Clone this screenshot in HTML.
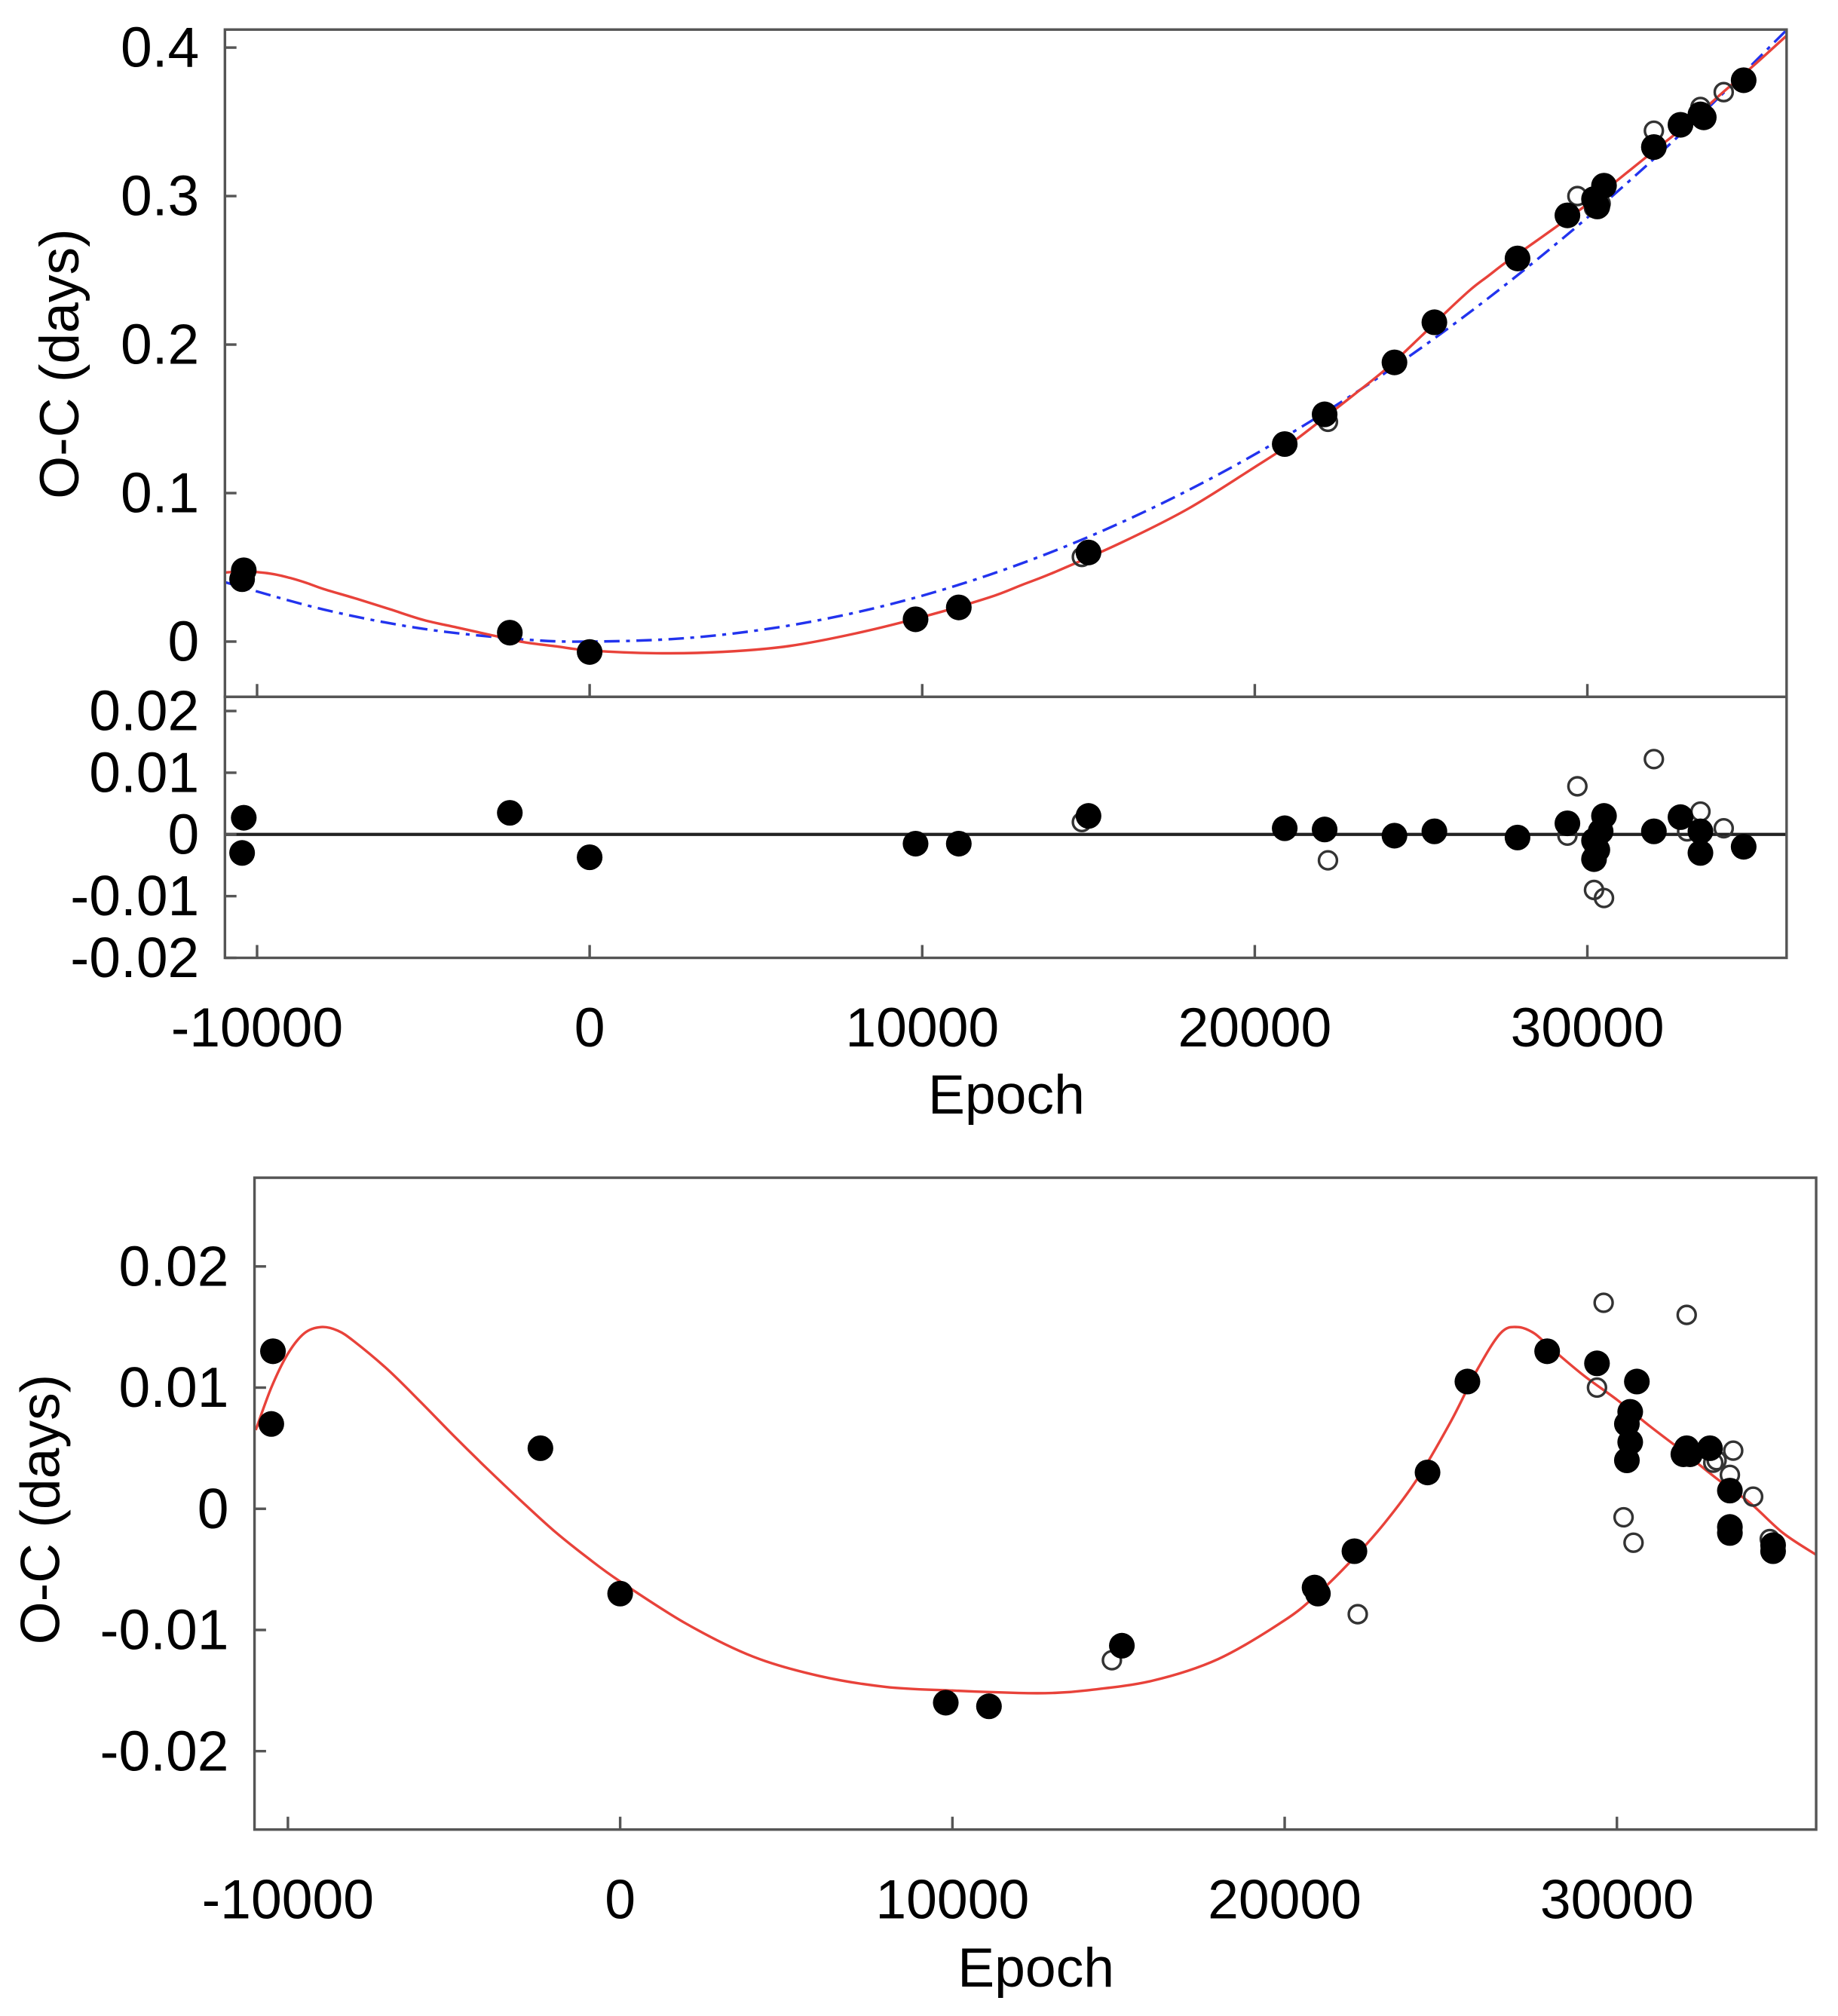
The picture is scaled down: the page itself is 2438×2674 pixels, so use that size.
<!DOCTYPE html>
<html><head><meta charset="utf-8"><style>
html,body{margin:0;padding:0;background:#fff;}
svg{display:block;}
text{font-family:"Liberation Sans",sans-serif;fill:#000;}
</style></head><body>
<svg id="fig" width="2438" height="2674" viewBox="0 0 1430 1568" preserveAspectRatio="none" xmlns="http://www.w3.org/2000/svg"></svg>
<script>
// ---- top panel data (O-C) ----
const topFilledE = [-10400,-10450,-2400,0,9800,11100,15000,20900,22100,24200,25400,27900,29400,30200,30300,30500,32000,32800,33400,33500,34700];
const topFilledV = [0.048,0.042,0.006,-0.007,0.015,0.023,0.060,0.133,0.153,0.188,0.215,0.258,0.287,0.298,0.293,0.307,0.333,0.348,0.355,0.353,0.378];
const topOpenE = [14800,22200,29700,30200,32000,33400,34100,30400];
const topOpenV = [0.057,0.148,0.300,0.292,0.344,0.360,0.370,0.295];
const quadE = [-10967,-8000,-5000,-2000,0,3000,6000,9000,12000,15000,18000,21000,24000,27000,30000,33000,36000];
const quadV = [0.040,0.0216,0.0086,0.0015,0,0.0025,0.0108,0.0249,0.0448,0.0705,0.1019,0.1391,0.1821,0.2309,0.2855,0.3458,0.412];
// ---- residual panel ----
const resFilledE = [-10400,-10450,-2400,0,9800,11100,15000,20900,22100,24200,25400,27900,29400,30200,30200,30300,30500,32000,32800,33400,33400,34700,30400];
const resFilledV = [0.0027,-0.003,0.0035,-0.0037,-0.0015,-0.0015,0.003,0.001,0.0008,-0.0002,0.0005,-0.0005,0.0018,-0.001,-0.004,-0.0025,0.003,0.0005,0.0028,-0.003,0.0005,-0.002,0.0005];
const resOpenE = [14800,22200,29700,29400,30200,30500,32000,33400,34100,33000];
const resOpenV = [0.002,-0.0042,0.0078,-0.0002,-0.009,-0.0103,0.0122,0.0037,0.001,0.0005];
// ---- bottom panel (LTTE residuals) ----
const botFilledE = [-10450,-10500,-2400,0,9800,11100,15100,20900,21000,22100,24300,25500,27900,29400,30300,30400,30400,30300,30600,32100,32200,32000,32800,33400,33400,33400,34700,34700];
const botFilledV = [0.013,0.007,0.005,-0.007,-0.016,-0.0163,-0.0113,-0.0065,-0.007,-0.0035,0.003,0.0105,0.013,0.012,0.007,0.008,0.0055,0.004,0.0105,0.005,0.0045,0.0045,0.005,0.0015,-0.0015,-0.002,-0.003,-0.0035];
const botOpenE = [14800,22200,29600,29400,30200,30500,32100,33500,33400,34100,33000,34600,32900];
const botOpenV = [-0.0125,-0.0087,0.017,0.010,-0.0007,-0.0028,0.016,0.0048,0.0028,0.001,0.004,-0.0025,0.0038];
const lteE = [-10967,-10500,-10000,-9500,-9000,-8500,-8000,-7000,-6000,-5000,-4000,-3000,-2000,-1000,0,2000,4000,6000,8000,10000,12000,13000,14000,16000,18000,20000,21000,22000,23000,24000,25000,25800,26500,27000,27500,28000,29000,30000,31000,32000,33000,34000,35000,36000];
const lteV = [0.0065,0.010,0.0128,0.0145,0.0150,0.0147,0.0138,0.0115,0.0088,0.0060,0.0033,0.0007,-0.0018,-0.0040,-0.0060,-0.0095,-0.0122,-0.0138,-0.0147,-0.0150,-0.0152,-0.0152,-0.0150,-0.0142,-0.0124,-0.0092,-0.0070,-0.0043,-0.0012,0.0025,0.0072,0.0115,0.0145,0.0150,0.0145,0.0133,0.0110,0.0090,0.0068,0.0047,0.0025,0.0005,-0.0020,-0.0038];
const xTicks = [-10000,0,10000,20000,30000];
const xTickLabels = ["-10000","0","10000","20000","30000"];
const topYTicks = [0,0.1,0.2,0.3,0.4];
const topYLabels = ["0","0.1","0.2","0.3","0.4"];
const resYTicks = [-0.02,-0.01,0,0.01,0.02];
const resYLabels = ["-0.02","-0.01","0","0.01","0.02"];
const botYTicks = [-0.02,-0.01,0,0.01,0.02];
const botYLabels = ["-0.02","-0.01","0","0.01","0.02"];

const NS="http://www.w3.org/2000/svg";
const svg=document.getElementById('fig');
function el(tag,attrs,parent){const e=document.createElementNS(NS,tag);for(const k in attrs)e.setAttribute(k,attrs[k]);(parent||svg).appendChild(e);return e;}
function lin(d0,d1,r0,r1){return v=>r0+(v-d0)/(d1-d0)*(r1-r0);}
function interp(xs,ys,x){for(let i=0;i<xs.length-1;i++){if(x<=xs[i+1]){const t=(x-xs[i])/(xs[i+1]-xs[i]);return ys[i]+t*(ys[i+1]-ys[i]);}}return ys[ys.length-1];}

const xTop=lin(-10000,30000,200,1235);
const yTop=lin(0,0.4,499,37);
const yRes=lin(-0.02,0.02,745,553);
const xBot=lin(-10000,30000,224,1258);
const yBot=lin(-0.02,0.02,1362,985);
const TICKF=44, XF=43, TF=43;

function frame(g,x0,y0,x1,y1,name){
  const r=el('rect',{x:x0,y:y0,width:x1-x0,height:y1-y0,fill:'none',stroke:'#555','stroke-width':2},g);
  
  
}
function yAxis(g,ticks,labels,ys,x0){
  ticks.forEach((t,i)=>{
    el('line',{x1:x0,x2:x0+9,y1:ys(t),y2:ys(t),stroke:'#555','stroke-width':2},g);
    const tx=el('text',{x:x0-20,y:ys(t)+15,'font-size':TICKF,'text-anchor':'end'},g);
    tx.textContent=labels[i];
    
    
  });
}
function xTicksDraw(g,xs,yb,labels,ly){
  xTicks.forEach((t,i)=>{
    el('line',{x1:xs(t),x2:xs(t),y1:yb,y2:yb-10,stroke:'#555','stroke-width':2},g);
    if(labels){
      const tx=el('text',{x:xs(t),y:ly,'font-size':XF,'text-anchor':'middle'},g);
      tx.textContent=xTickLabels[i];
      
      
    }
  });
}
function pts(g,E,V,xs,ys,filled,name){
  E.forEach((e,i)=>{
    const c=filled?el('circle',{cx:xs(e),cy:ys(V[i]),r:10,fill:'#000'},g):el('circle',{cx:xs(e),cy:ys(V[i]),r:7,fill:'none',stroke:'#333','stroke-width':2},g);
    
    
  });
}
function curve(g,E,V,xs,ys,attrs,name){
  const P=E.map((e,i)=>[xs(e),ys(V[i])]);
  let d='M'+P[0][0].toFixed(2)+','+P[0][1].toFixed(2);
  for(let i=0;i<P.length-1;i++){
    const p0=P[Math.max(0,i-1)],p1=P[i],p2=P[i+1],p3=P[Math.min(P.length-1,i+2)];
    const c1=[p1[0]+(p2[0]-p0[0])/6,p1[1]+(p2[1]-p0[1])/6];
    const c2=[p2[0]-(p3[0]-p1[0])/6,p2[1]-(p3[1]-p1[1])/6];
    d+=' C'+c1[0].toFixed(2)+','+c1[1].toFixed(2)+' '+c2[0].toFixed(2)+','+c2[1].toFixed(2)+' '+p2[0].toFixed(2)+','+p2[1].toFixed(2);
  }
  const p=el('path',Object.assign({d:d,fill:'none'},attrs),g);
  
  
}

// ===== top panel =====
const gT=el('g',{});


const cpT=el('clipPath',{id:'cT'},gT);
el('rect',{x:175,y:23,width:1215,height:519},cpT);
const gTc=el('g',{'clip-path':'url(#cT)'},gT);
const redTopV=lteE.map((e,i)=>interp(quadE,quadV,e)+lteV[i]);
curve(gTc,quadE,quadV,xTop,yTop,{stroke:'#2233ee','stroke-width':2,'stroke-dasharray':'12,5,3,5'},'quadratic-fit-line');
curve(gTc,lteE,redTopV,xTop,yTop,{stroke:'#e8423a','stroke-width':2},'lte-fit-line');
pts(gTc,topOpenE,topOpenV,xTop,yTop,false,'open-point');
pts(gTc,topFilledE,topFilledV,xTop,yTop,true,'filled-point');
frame(gT,175,23,1390,542,'oc-plot-frame');
yAxis(gT,topYTicks,topYLabels,yTop,175);
xTicksDraw(gT,xTop,542,false);
const yl1=el('text',{x:0,y:0,'font-size':TF,'text-anchor':'middle',transform:'translate(61,283) rotate(-90)'},gT);
yl1.textContent='O-C (days)';



// residual
const gR=el('g',{});


el('line',{x1:175,x2:1390,y1:yRes(0),y2:yRes(0),stroke:'#222','stroke-width':2.5},gR);
pts(gR,resOpenE,resOpenV,xTop,yRes,false,'residual-open-point');
pts(gR,resFilledE,resFilledV,xTop,yRes,true,'residual-filled-point');
frame(gR,175,542,1390,745,'residual-plot-frame');
yAxis(gR,resYTicks,resYLabels,yRes,175);
xTicksDraw(gR,xTop,745,true,814);
const xl1=el('text',{x:783,y:866,'font-size':TF,'text-anchor':'middle'},gR);
xl1.textContent='Epoch';



// ===== bottom panel =====
const gB=el('g',{});


const cp=el('clipPath',{id:'cB'},gB);
el('rect',{x:198,y:916,width:1215,height:507},cp);
const gBc=el('g',{'clip-path':'url(#cB)'},gB);
curve(gBc,lteE,lteV,xBot,yBot,{stroke:'#e8423a','stroke-width':2},'lte-curve');
pts(gBc,botOpenE,botOpenV,xBot,yBot,false,'open-point');
pts(gBc,botFilledE,botFilledV,xBot,yBot,true,'filled-point');
frame(gB,198,916,1413,1423,'lte-plot-frame');
yAxis(gB,botYTicks,botYLabels,yBot,198);
xTicksDraw(gB,xBot,1423,true,1492);
const yl2=el('text',{x:0,y:0,'font-size':TF,'text-anchor':'middle',transform:'translate(46,1174) rotate(-90)'},gB);
yl2.textContent='O-C (days)';


const xl2=el('text',{x:806,y:1545,'font-size':TF,'text-anchor':'middle'},gB);
xl2.textContent='Epoch';


</script>
</body></html>
